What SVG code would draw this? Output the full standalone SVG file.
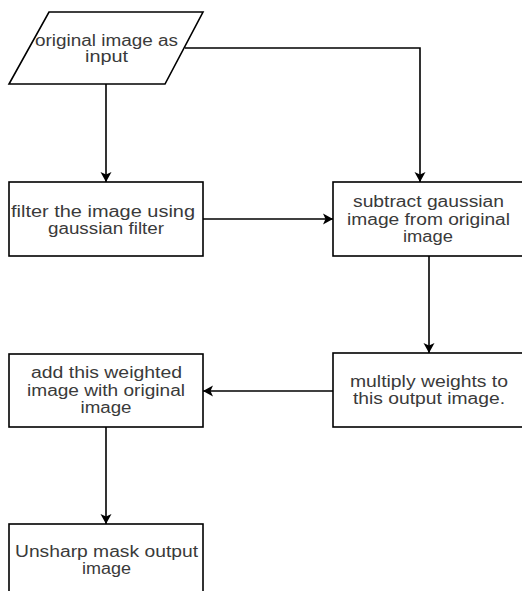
<svg xmlns="http://www.w3.org/2000/svg" width="522" height="591" viewBox="0 0 522 591">
<defs>
<marker id="arr" markerWidth="12" markerHeight="12" viewBox="0 0 12 12" refX="11" refY="6" orient="auto" markerUnits="userSpaceOnUse">
<path d="M1,0.5 L11,6 L1,11.5 L3.5,6 Z" fill="#000"/>
</marker>
<style>
.shape{fill:#fff;stroke:#000;stroke-width:1.6}
.edge{fill:none;stroke:#000;stroke-width:1.6;marker-end:url(#arr)}
text{font-family:"Liberation Sans",Arial,sans-serif;font-size:16px;fill:#3a3a3a;text-anchor:middle}
</style>
</defs>
<rect width="522" height="591" fill="#fff"/>
<g id="connectors">
<path class="edge" d="M106,84 L106,182"/>
<path class="edge" d="M185,48 L420,48 L420,182"/>
<path class="edge" d="M203,219 L333,219"/>
<path class="edge" d="M429,256 L429,353"/>
<path class="edge" d="M333,391 L203,391"/>
<path class="edge" d="M106,427 L106,524"/>
</g>
<g id="input">
<path class="shape" d="M49,12 L203,12 L165,84 L9,84 Z"/>
<text x="106.5" y="46" textLength="143" lengthAdjust="spacingAndGlyphs">original image as</text>
<text x="106.5" y="62" textLength="43" lengthAdjust="spacingAndGlyphs">input</text>
</g>
<g id="filter">
<rect class="shape" x="9" y="182" width="194" height="74"/>
<text x="103" y="217" textLength="184" lengthAdjust="spacingAndGlyphs">filter the image using</text>
<text x="106" y="234" textLength="116" lengthAdjust="spacingAndGlyphs">gaussian filter</text>
</g>
<g id="subtract">
<rect class="shape" x="333" y="182" width="200" height="74"/>
<text x="428.5" y="207" textLength="151" lengthAdjust="spacingAndGlyphs">subtract gaussian</text>
<text x="428.5" y="225" textLength="163" lengthAdjust="spacingAndGlyphs">image from original</text>
<text x="428" y="242" textLength="50" lengthAdjust="spacingAndGlyphs">image</text>
</g>
<g id="multiply">
<rect class="shape" x="333" y="353" width="200" height="74"/>
<text x="429" y="387" textLength="158" lengthAdjust="spacingAndGlyphs">multiply weights to</text>
<text x="429" y="404" textLength="152" lengthAdjust="spacingAndGlyphs">this output image.</text>
</g>
<g id="add">
<rect class="shape" x="9" y="354" width="194" height="73"/>
<text x="106.5" y="378" textLength="151" lengthAdjust="spacingAndGlyphs">add this weighted</text>
<text x="106" y="396" textLength="158" lengthAdjust="spacingAndGlyphs">image with original</text>
<text x="106" y="413" textLength="51" lengthAdjust="spacingAndGlyphs">image</text>
</g>
<g id="output">
<rect class="shape" x="9" y="524" width="194" height="80"/>
<text x="106.5" y="557" textLength="183" lengthAdjust="spacingAndGlyphs">Unsharp mask output</text>
<text x="106.5" y="574" textLength="49" lengthAdjust="spacingAndGlyphs">image</text>
</g>
</svg>
